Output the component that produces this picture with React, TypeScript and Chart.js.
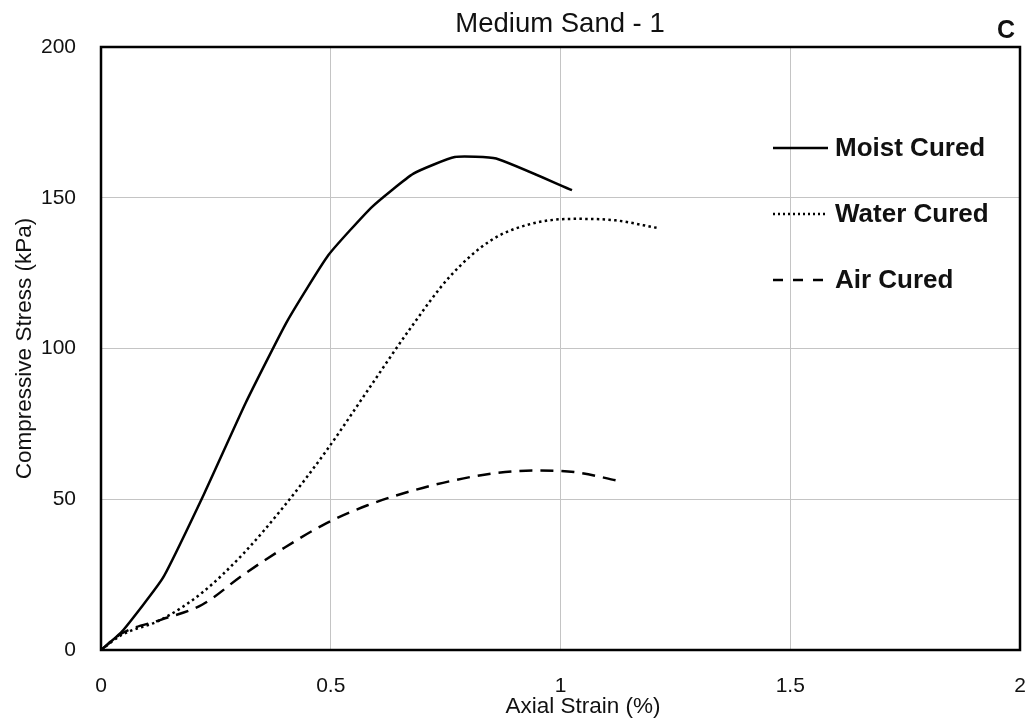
import React, { useEffect, useRef } from "react";
import Chart from "chart.js/auto";

const chartTitle = "Medium Sand - 1";
const panelLetter = "C";
const xAxisTitle = "Axial Strain (%)";
const yAxisTitle = "Compressive Stress (kPa)";
const seriesNames = ["Moist Cured", "Water Cured", "Air Cured"];

const moistStrain = [0, 0.045, 0.135, 0.225, 0.315, 0.405, 0.495, 0.59, 0.68, 0.77, 0.86, 1.025];
const moistStress = [0, 6, 24, 52, 82, 109, 131, 147, 158, 163.5, 163, 152.5];

const waterStrain = [0, 0.045, 0.13, 0.22, 0.31, 0.4, 0.49, 0.58, 0.67, 0.76, 0.85, 0.94, 1.03, 1.12, 1.21];
const waterStress = [0, 5, 10, 19, 32, 48, 66, 86, 106, 124, 136, 141.5, 143, 142.5, 140];

const airStrain = [0, 0.045, 0.13, 0.22, 0.31, 0.4, 0.49, 0.58, 0.67, 0.76, 0.85, 0.94, 1.03, 1.13];
const airStress = [0, 5.5, 10, 15, 25, 34, 42, 48, 52.5, 56, 58.5, 59.5, 59, 56];

const xTicks = [0, 0.5, 1, 1.5, 2];
const yTicks = [0, 50, 100, 150, 200];

const FONT = "'Liberation Sans', Arial, sans-serif";

const toPoints = (xs: number[], ys: number[]) => xs.map((x, i) => ({ x, y: ys[i] }));

const overlayPlugin = {
  id: "overlay",
  afterDraw(chart: any) {
    const { ctx, chartArea } = chart;
    const { left, right, top, bottom } = chartArea;
    ctx.save();
    // frame
    ctx.strokeStyle = "#000";
    ctx.lineWidth = 2.5;
    ctx.setLineDash([]);
    ctx.strokeRect(left, top, right - left, bottom - top);
    // title
    ctx.fillStyle = "#111";
    ctx.textAlign = "center";
    ctx.textBaseline = "middle";
    ctx.font = `27.5px ${FONT}`;
    ctx.fillText(chartTitle, 560, 24);
    ctx.font = `bold 25px ${FONT}`;
    ctx.fillText(panelLetter, 1006, 31);
    // x axis title
    ctx.font = `22.5px ${FONT}`;
    ctx.fillText(xAxisTitle, 583, 707);
    // legend
    const rows = [148, 214, 280];
    chart.data.datasets.forEach((ds: any, i: number) => {
      const y = rows[i];
      ctx.beginPath();
      ctx.strokeStyle = ds.borderColor;
      ctx.lineWidth = ds.borderWidth;
      ctx.setLineDash(i === 1 ? [2, 3] : i === 2 ? [10, 10] : []);
      ctx.moveTo(773, y);
      ctx.lineTo(i === 2 ? 825 : 828, y);
      ctx.stroke();
      ctx.setLineDash([]);
      ctx.fillStyle = "#111";
      ctx.textAlign = "left";
      ctx.textBaseline = "middle";
      ctx.font = `bold 26px ${FONT}`;
      ctx.fillText(ds.label, 835, y + 1);
    });
    ctx.restore();
  },
};

export default function App() {
  const ref = useRef<HTMLCanvasElement>(null);
  useEffect(() => {
    document.body.style.margin = "0";
    const canvas = ref.current!;
    const chart = new Chart(canvas, {
      type: "line",
      data: {
        datasets: [
          {
            label: seriesNames[0],
            data: toPoints(moistStrain, moistStress),
            borderColor: "#000",
            borderWidth: 2.5,
            pointRadius: 0,
            tension: 0.15,
            fill: false,
          },
          {
            label: seriesNames[1],
            data: toPoints(waterStrain, waterStress),
            borderColor: "#000",
            borderWidth: 2.5,
            borderDash: [2.5, 3.3],
            pointRadius: 0,
            cubicInterpolationMode: "monotone",
            fill: false,
          },
          {
            label: seriesNames[2],
            data: toPoints(airStrain, airStress),
            borderColor: "#000",
            borderWidth: 2.5,
            borderDash: [13, 8],
            pointRadius: 0,
            cubicInterpolationMode: "monotone",
            fill: false,
          },
        ],
      },
      options: {
        responsive: false,
        animation: false,
        events: [],
        layout: { padding: { left: 0, right: 13, top: 47, bottom: 0 } },
        plugins: {
          legend: { display: false },
          title: { display: false },
          tooltip: { enabled: false },
        },
        scales: {
          x: {
            type: "linear",
            min: 0,
            max: 2,
            afterBuildTicks: (scale: any) => {
              scale.ticks = xTicks.map((v) => ({ value: v }));
            },
            afterFit: (scale: any) => {
              scale.height = 75;
            },
            grid: { color: "#c4c4c4", lineWidth: 1, drawTicks: true, tickLength: 22, tickColor: "rgba(0,0,0,0)" },
            border: { display: false },
            ticks: {
              autoSkip: false,
              maxRotation: 0,
              padding: 2,
              color: "#111",
              font: { family: FONT, size: 21 },
              callback: (v: any) => String(v),
            },
            title: { display: false },
          },
          y: {
            type: "linear",
            min: 0,
            max: 200,
            afterBuildTicks: (scale: any) => {
              scale.ticks = yTicks.map((v) => ({ value: v }));
            },
            afterFit: (scale: any) => {
              scale.width = 101;
            },
            grid: { color: "#c4c4c4", lineWidth: 1, drawTicks: true, tickLength: 23, tickColor: "rgba(0,0,0,0)" },
            border: { display: false },
            ticks: {
              padding: 2,
              color: "#111",
              font: { family: FONT, size: 21 },
              callback: (v: any) => String(v),
            },
            title: {
              display: true,
              text: yAxisTitle,
              color: "#111",
              font: { family: FONT, size: 22.5, lineHeight: 1 },
              padding: { top: 14, bottom: 0 },
            },
          },
        },
      },
      plugins: [overlayPlugin],
    });
    return () => chart.destroy();
  }, []);
  return (
    <div style={{ width: 1033, height: 725, background: "#fff" }}>
      <canvas ref={ref} width={1033} height={725} style={{ display: "block" }} />
    </div>
  );
}
